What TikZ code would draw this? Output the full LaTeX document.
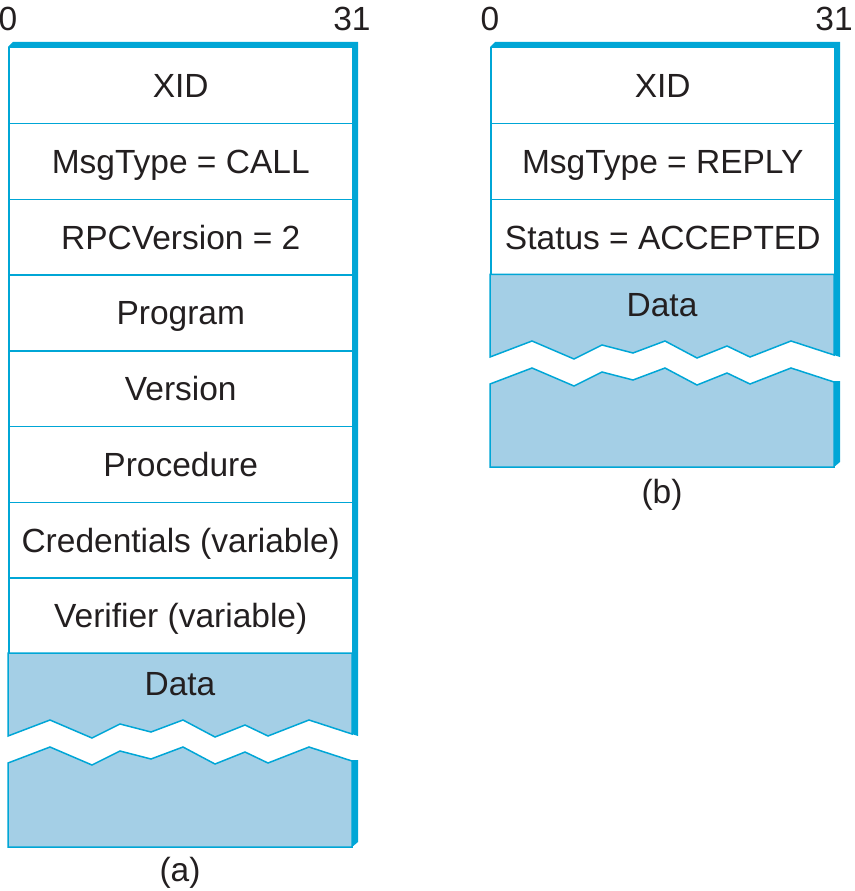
\documentclass[tikz,border=0pt]{standalone}
\usepackage{fontspec}
\setmainfont{Liberation Sans}

\definecolor{rpcblue}{RGB}{0,166,214}
\definecolor{rpcdata}{RGB}{164,207,230}
\definecolor{rpctext}{RGB}{35,31,32}

% torn edge of the data field, from its left end
\newcommand{\zigzag}{-- ++(42,-16) -- ++(42,18) -- ++(28,-14) -- ++(31,8) -- ++(32,-12) -- ++(32,17) -- ++(30,-12) -- ++(23,11) -- ++(41,-16) -- ++(43,14)}

\tikzset{
  field/.style={draw=rpcblue, line width=1.5pt, fill=white, minimum width=344pt, minimum height=75.75pt, inner sep=0pt, anchor=north west, text height=24pt, text depth=0pt},
  datablock/.style={draw=rpcblue, line width=1.5pt, fill=rpcdata},
  bits/.style={text height=24pt, text depth=0pt},
}

\begin{document}
\begin{tikzpicture}[x=1pt,y=-1pt,every node/.style={font=\fontsize{33.5}{40}\selectfont, text=rpctext}]

  \useasboundingbox (0,0) rectangle (854,891);

  % (a) call message
  \fill[rpcblue] (8,47) -- (13,42) -- (358,42) -- (358,736) -- (352,734) -- (352,47) -- cycle;
  \foreach \f [count=\i from 0] in {XID, MsgType = CALL, RPCVersion = 2, Program, Version, Procedure, Credentials (variable), Verifier (variable)}
    \node[field] (call\i) at (8,{47+\i*75.75}) {\f};

  \filldraw[datablock] (8,736) \zigzag -- (352,653) -- (8,653) -- cycle;
  \filldraw[datablock] (8,763) \zigzag -- (352,847) -- (8,847) -- cycle;
  \fill[rpcblue] (352,760) -- (358,760) -- (358,842) -- (352,847) -- cycle;

  \node[bits] (calldata) at (180,683) {Data};
  \node[bits] (callfirst) at (8,18.5) {0};
  \node[bits] (calllast) at (352,18.5) {31};
  \node[anchor=base] (calltag) at (180,881) {(a)};

  % (b) reply message
  \fill[rpcblue] (490,47) -- (495,42) -- (840,42) -- (840,357) -- (834,355) -- (834,47) -- cycle;
  \foreach \f [count=\i from 0] in {XID, MsgType = REPLY, Status = ACCEPTED}
    \node[field] (reply\i) at (490,{47+\i*75.75}) {\f};

  \filldraw[datablock] (490,357) \zigzag -- (834,274.25) -- (490,274.25) -- cycle;
  \filldraw[datablock] (490,384) \zigzag -- (834,467) -- (490,467) -- cycle;
  \fill[rpcblue] (834,381) -- (840,381) -- (840,462) -- (834,467) -- cycle;

  \node[bits] (replydata) at (662,304) {Data};
  \node[bits] (replyfirst) at (490,18.5) {0};
  \node[bits] (replylast) at (834,18.5) {31};
  \node[anchor=base] (replytag) at (662,503) {(b)};

\end{tikzpicture}
\end{document}
